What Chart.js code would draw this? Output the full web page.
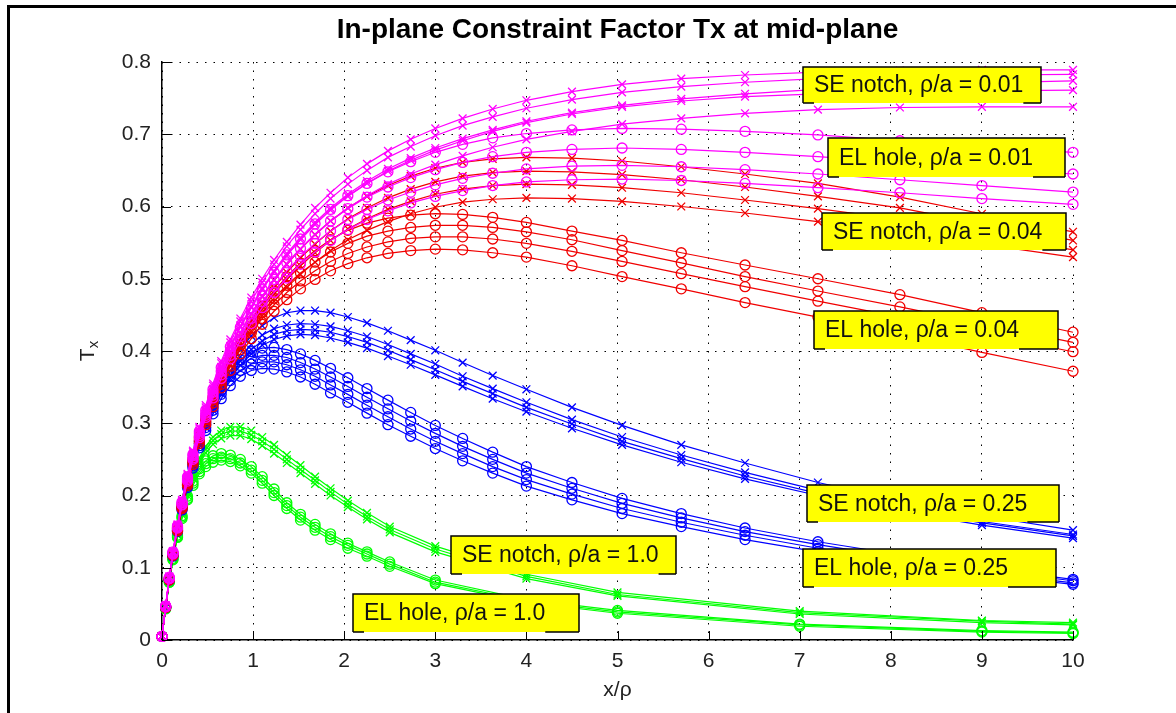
<!DOCTYPE html>
<html>
<head>
<meta charset="utf-8">
<script src="https://cdn.jsdelivr.net/npm/chart.js@4.4.1/dist/chart.umd.min.js"></script>
<style>
    html, body { margin: 0; padding: 0; background: #fff; overflow: hidden; }
    #frame {
        position: absolute; left: 7px; top: 5px; width: 1169px; height: 708px;
        box-sizing: border-box; border-top: 3px solid #000; border-left: 3px solid #000;
    }
    #wrap { position: absolute; left: 0; top: 0; width: 1176px; height: 713px; }
</style>
</head>
<body>
<div id="frame"></div>
<div id="wrap"><canvas id="txChart" width="1176" height="713"></canvas></div>
<script>
// sample positions x/rho along the mid-plane
const xGrid = [0, 0.04, 0.08, 0.12, 0.17, 0.22, 0.28, 0.34, 0.41, 0.48, 0.56, 0.65, 0.75, 0.86, 0.98, 1.1, 1.23, 1.37, 1.52, 1.68,
    1.85, 2.04, 2.25, 2.48, 2.73, 3.0, 3.3, 3.63, 4.0, 4.5, 5.05, 5.7, 6.4, 7.2, 8.1, 9.0, 10];
const xGridBlunt = [0, 0.04, 0.08, 0.12, 0.17, 0.22, 0.28, 0.34, 0.41, 0.48, 0.56, 0.65, 0.75, 0.86, 0.98, 1.1, 1.23, 1.37, 1.52, 1.68,
    1.85, 2.04, 2.25, 2.5, 3.0, 4.0, 5.0, 7.0, 9.0, 10];

// Tx curves, one row per model
const seNotch001 = [
    [.005, .048, .088, .123, .16, .194, .23, .262, .295, .325, .355, .386, .416, .445, .474, .5, .526, .551, .575, .598,
     .619, .64, .659, .677, .693, .708, .722, .735, .747, .759, .769, .777, .782, .786, .788, .789, .789],
    [.005, .048, .087, .122, .159, .193, .228, .26, .293, .322, .352, .383, .412, .441, .469, .495, .52, .545, .568, .59,
     .611, .631, .65, .668, .683, .698, .712, .724, .736, .748, .758, .766, .772, .777, .78, .782, .783],
    [.005, .047, .086, .121, .158, .191, .226, .258, .29, .319, .348, .378, .407, .435, .462, .487, .511, .535, .557, .578,
     .598, .617, .635, .652, .667, .681, .694, .706, .718, .73, .74, .749, .756, .762, .767, .771, .774],
    [.005, .047, .086, .12, .157, .19, .224, .256, .288, .317, .346, .376, .405, .433, .46, .485, .509, .532, .554, .575,
     .595, .614, .632, .649, .664, .678, .691, .704, .716, .728, .738, .746, .752, .756, .758, .76, .761],
    [.005, .046, .085, .119, .155, .188, .222, .253, .285, .313, .341, .37, .398, .425, .451, .475, .498, .52, .541, .561,
     .58, .598, .615, .631, .645, .658, .67, .682, .693, .704, .714, .722, .729, .734, .737, .738, .738]
];
const elHole001 = [
    [.005, .047, .087, .122, .158, .191, .226, .257, .289, .318, .347, .377, .406, .433, .46, .485, .509, .533, .555, .576,
     .596, .615, .632, .648, .662, .675, .686, .695, .701, .706, .708, .707, .704, .699, .691, .683, .675],
    [.005, .047, .086, .121, .157, .19, .224, .255, .286, .314, .343, .372, .4, .426, .452, .476, .499, .522, .542, .562,
     .58, .597, .613, .627, .64, .651, .661, .669, .675, .679, .681, .679, .675, .669, .661, .653, .645],
    [.005, .046, .085, .12, .156, .188, .222, .252, .283, .311, .339, .367, .394, .42, .445, .468, .49, .511, .531, .549,
     .566, .582, .596, .609, .62, .63, .639, .646, .652, .656, .657, .655, .651, .645, .637, .629, .62],
    [.005, .046, .085, .119, .155, .187, .22, .25, .28, .308, .335, .362, .389, .414, .438, .46, .481, .501, .52, .537,
     .553, .568, .582, .594, .605, .614, .622, .629, .634, .637, .638, .636, .632, .626, .619, .611, .603]
];
const seNotch004 = [
    [.005, .047, .086, .121, .157, .189, .223, .254, .286, .314, .342, .371, .399, .425, .451, .475, .498, .52, .541, .561,
     .58, .598, .614, .629, .642, .653, .661, .666, .668, .667, .663, .655, .645, .632, .613, .59, .565],
    [.005, .047, .085, .12, .156, .188, .221, .252, .283, .311, .338, .366, .393, .418, .443, .466, .488, .509, .529, .548,
     .566, .583, .598, .612, .624, .634, .642, .647, .649, .648, .644, .637, .627, .614, .598, .576, .553],
    [.005, .046, .085, .119, .155, .186, .219, .249, .28, .307, .334, .361, .387, .412, .436, .458, .479, .499, .518, .536,
     .553, .569, .583, .596, .607, .617, .624, .629, .631, .63, .626, .619, .609, .597, .582, .562, .54],
    [.005, .046, .084, .118, .153, .184, .217, .247, .277, .303, .33, .356, .381, .405, .428, .449, .469, .488, .506, .523,
     .539, .554, .567, .579, .59, .599, .606, .61, .612, .611, .607, .6, .591, .579, .565, .548, .53]
];
const elHole004 = [
    [.005, .046, .085, .12, .155, .187, .22, .25, .281, .308, .336, .364, .39, .415, .44, .462, .483, .503, .522, .539,
     .554, .567, .577, .584, .588, .59, .589, .585, .578, .566, .553, .536, .519, .5, .478, .453, .426],
    [.005, .046, .084, .119, .154, .185, .218, .248, .278, .305, .332, .359, .385, .409, .432, .453, .473, .491, .508, .523,
     .537, .549, .559, .566, .571, .574, .574, .571, .565, .554, .539, .522, .503, .483, .461, .438, .412],
    [.005, .045, .084, .118, .152, .183, .216, .246, .275, .302, .328, .354, .379, .402, .425, .445, .464, .481, .497, .511,
     .524, .535, .544, .551, .556, .558, .558, .555, .549, .538, .524, .507, .489, .469, .447, .424, .399],
    [.005, .045, .083, .117, .151, .182, .214, .243, .272, .298, .323, .349, .373, .396, .417, .437, .455, .471, .486, .499,
     .511, .521, .529, .535, .539, .541, .54, .536, .53, .518, .503, .486, .467, .447, .423, .398, .372]
];
const seNotch025 = [
    [.005, .046, .085, .119, .154, .185, .218, .247, .277, .303, .33, .356, .38, .402, .421, .435, .446, .453, .456, .456,
     .453, .447, .439, .428, .415, .401, .384, .366, .347, .322, .297, .27, .245, .218, .193, .172, .152],
    [.005, .046, .084, .118, .153, .184, .216, .245, .274, .3, .325, .349, .372, .392, .409, .422, .431, .436, .438, .437,
     .434, .428, .42, .409, .396, .382, .365, .348, .329, .305, .281, .256, .232, .207, .184, .164, .146],
    [.005, .045, .084, .118, .152, .183, .215, .243, .272, .297, .322, .345, .367, .386, .402, .414, .423, .428, .43, .429,
     .426, .42, .412, .401, .388, .374, .358, .341, .322, .299, .275, .251, .227, .203, .181, .162, .144],
    [.005, .045, .083, .117, .151, .182, .213, .241, .27, .294, .318, .341, .362, .38, .396, .408, .416, .421, .423, .422,
     .418, .412, .404, .393, .381, .367, .351, .334, .316, .293, .27, .246, .223, .2, .178, .159, .141]
];
const elHole025 = [
    [.005, .046, .084, .118, .153, .184, .216, .245, .275, .301, .327, .351, .372, .388, .399, .404, .405, .402, .396, .387,
     .376, .363, .348, .332, .315, .297, .279, .26, .24, .218, .196, .175, .155, .136, .118, .1, .084],
    [.005, .046, .084, .118, .152, .183, .215, .243, .272, .298, .322, .345, .365, .38, .39, .394, .394, .391, .384, .375,
     .364, .351, .336, .32, .303, .286, .268, .25, .231, .21, .189, .169, .15, .132, .114, .097, .082],
    [.005, .045, .083, .117, .151, .182, .213, .241, .269, .294, .318, .34, .359, .373, .382, .385, .385, .381, .374, .365,
     .353, .34, .325, .309, .292, .275, .258, .24, .222, .202, .182, .163, .145, .127, .11, .094, .079],
    [.005, .045, .083, .116, .15, .18, .211, .238, .266, .29, .313, .334, .352, .365, .373, .376, .375, .371, .364, .354,
     .342, .329, .314, .298, .282, .265, .248, .231, .213, .194, .175, .157, .139, .122, .106, .091, .077]
];
const seNotch100 = [
    [.005, .045, .082, .115, .148, .177, .206, .23, .252, .268, .281, .29, .295, .295, .29, .281, .27, .256, .242, .226,
     .21, .193, .176, .157, .13, .091, .066, .04, .027, .024],
    [.005, .045, .081, .114, .146, .175, .203, .227, .248, .264, .276, .285, .289, .289, .284, .275, .264, .25, .236, .221,
     .205, .188, .171, .153, .126, .088, .063, .038, .026, .022],
    [.005, .044, .081, .113, .145, .173, .2, .224, .244, .259, .271, .279, .283, .283, .278, .269, .258, .245, .231, .216,
     .2, .184, .167, .149, .122, .085, .061, .036, .024, .021]
];
const elHole100 = [
    [.005, .044, .081, .113, .145, .172, .199, .22, .237, .248, .255, .258, .256, .25, .24, .226, .209, .19, .174, .16,
     .147, .134, .122, .108, .083, .056, .041, .022, .013, .011],
    [.005, .044, .08, .112, .143, .17, .196, .217, .233, .244, .251, .253, .251, .245, .235, .221, .204, .186, .17, .156,
     .143, .131, .119, .105, .08, .054, .039, .021, .012, .01],
    [.005, .043, .08, .111, .142, .168, .194, .214, .23, .24, .246, .249, .247, .241, .231, .217, .2, .182, .166, .152,
     .139, .127, .116, .102, .078, .052, .037, .019, .011, .009]
];

const xTickLabels = ['0', '1', '2', '3', '4', '5', '6', '7', '8', '9', '10'];
const yTickLabels = ['0', '0.1', '0.2', '0.3', '0.4', '0.5', '0.6', '0.7', '0.8'];

// text boxes: [label, x1, y1, x2, y2] in axis units
const labelBoxes = [
    ['SE notch, \u03c1/a = 0.01', 7.036, 0.793, 9.649, 0.743],
    ['EL hole, \u03c1/a = 0.01', 7.311, 0.695, 9.912, 0.641],
    ['SE notch, \u03c1/a = 0.04', 7.245, 0.591, 9.923, 0.540],
    ['EL hole, \u03c1/a = 0.04', 7.157, 0.455, 9.835, 0.403],
    ['SE notch, \u03c1/a = 0.25', 7.080, 0.2145, 9.846, 0.163],
    ['EL hole, \u03c1/a = 0.25', 7.036, 0.126, 9.813, 0.073],
    ['SE notch, \u03c1/a = 1.0', 3.172, 0.144, 5.642, 0.091],
    ['EL hole, \u03c1/a = 1.0', 2.097, 0.064, 4.577, 0.011]
];

const groups = [
    { name: 'SE notch 0.01', color: '#ff00ff', marker: 'crossRot', xs: xGrid, rows: seNotch001 },
    { name: 'EL hole 0.01', color: '#ff00ff', marker: 'circle', xs: xGrid, rows: elHole001 },
    { name: 'SE notch 0.04', color: '#f00000', marker: 'crossRot', xs: xGrid, rows: seNotch004 },
    { name: 'EL hole 0.04', color: '#f00000', marker: 'circle', xs: xGrid, rows: elHole004 },
    { name: 'SE notch 0.25', color: '#0000ff', marker: 'crossRot', xs: xGrid, rows: seNotch025 },
    { name: 'EL hole 0.25', color: '#0000ff', marker: 'circle', xs: xGrid, rows: elHole025 },
    { name: 'SE notch 1.0', color: '#00ff00', marker: 'crossRot', xs: xGridBlunt, rows: seNotch100 },
    { name: 'EL hole 1.0', color: '#00ff00', marker: 'circle', xs: xGridBlunt, rows: elHole100 }
];

const datasets = [];
groups.forEach(g => {
    g.rows.forEach((row, k) => {
        datasets.push({
            label: g.name + ' #' + (k + 1),
            data: row.map((v, i) => ({ x: g.xs[i], y: v })),
            borderColor: g.color,
            borderWidth: 1.2,
            backgroundColor: 'rgba(0,0,0,0)',
            pointStyle: g.marker,
            pointRadius: g.marker === 'circle' ? 5 : 5.5,
            pointBorderColor: g.color,
            pointBackgroundColor: 'rgba(0,0,0,0)',
            pointBorderWidth: 1.3,
            tension: 0,
            clip: false
        });
    });
});

const FONT = '"Liberation Sans", Arial, sans-serif';

// title, axis labels, inward ticks and the yellow text boxes
const decorations = {
    id: 'decorations',
    afterDraw(chart) {
        const { ctx, chartArea: a, scales: { x, y } } = chart;
        ctx.save();

        ctx.strokeStyle = '#000';
        ctx.lineWidth = 1;
        ctx.beginPath();
        x.ticks.forEach(t => {
            const px = Math.round(x.getPixelForValue(t.value)) + 0.5;
            ctx.moveTo(px, a.bottom);
            ctx.lineTo(px, a.bottom - 9);
        });
        y.ticks.forEach(t => {
            const py = Math.round(y.getPixelForValue(t.value)) + 0.5;
            ctx.moveTo(a.left, py);
            ctx.lineTo(a.left + 9, py);
        });
        ctx.stroke();

        ctx.font = '23px ' + FONT;
        ctx.textBaseline = 'middle';
        ctx.textAlign = 'left';
        labelBoxes.forEach(([text, x1, y1, x2, y2]) => {
            const l = Math.round(x.getPixelForValue(x1));
            const r = Math.round(x.getPixelForValue(x2));
            const t = Math.round(y.getPixelForValue(y1));
            const b = Math.round(y.getPixelForValue(y2));
            ctx.fillStyle = '#ffff00';
            ctx.fillRect(l, t, r - l, b - t);
            const tx = l + 11;
            const tw = ctx.measureText(text).width;
            ctx.strokeStyle = '#000';
            ctx.lineWidth = 1.5;
            ctx.beginPath();
            ctx.moveTo(l, b); ctx.lineTo(l, t); ctx.lineTo(r, t); ctx.lineTo(r, b);
            ctx.moveTo(l, b); ctx.lineTo(tx, b);
            ctx.moveTo(tx + tw, b); ctx.lineTo(r, b);
            ctx.stroke();
            ctx.fillStyle = '#111';
            ctx.fillText(text, tx, (t + b) / 2 + 1);
        });

        const cx = (a.left + a.right) / 2;
        ctx.fillStyle = '#000';
        ctx.textAlign = 'center';
        ctx.font = 'bold 28px ' + FONT;
        ctx.fillText('In-plane Constraint Factor Tx at mid-plane', cx, 30);

        ctx.fillStyle = '#222';
        ctx.font = '21px ' + FONT;
        ctx.fillText('x/\u03c1', cx, 690);

        ctx.translate(88, (a.top + a.bottom) / 2);
        ctx.rotate(-Math.PI / 2);
        ctx.textAlign = 'left';
        ctx.font = '21px ' + FONT;
        const tW = ctx.measureText('T').width;
        ctx.font = '15px ' + FONT;
        const xW = ctx.measureText('x').width;
        const start = -(tW + xW) / 2;
        ctx.font = '21px ' + FONT;
        ctx.fillText('T', start, 0);
        ctx.font = '15px ' + FONT;
        ctx.fillText('x', start + tW, 6);
        ctx.restore();
    }
};

const ctx = document.getElementById('txChart').getContext('2d');
const txChart = new Chart(ctx, {
    type: 'line',
    data: { datasets: datasets },
    options: {
        responsive: false,
        animation: false,
        events: [],
        layout: { padding: { left: 0, top: 62, right: 103, bottom: 0 } },
        plugins: {
            legend: { display: false },
            title: { display: false },
            tooltip: { enabled: false }
        },
        scales: {
            x: {
                type: 'linear',
                min: 0,
                max: 10,
                ticks: {
                    stepSize: 1,
                    padding: 9,
                    color: '#222',
                    font: { family: FONT, size: 21 },
                    maxRotation: 0,
                    callback: (v, i) => xTickLabels[i]
                },
                grid: { color: '#000', lineWidth: 1, drawTicks: false },
                border: { display: true, color: '#000', width: 1.5, dash: [1.5, 7] },
                afterFit: s => { s.height = 73; }
            },
            y: {
                type: 'linear',
                min: 0,
                max: 0.8,
                ticks: {
                    stepSize: 0.1,
                    padding: 11,
                    color: '#222',
                    font: { family: FONT, size: 21 },
                    callback: (v, i) => yTickLabels[i]
                },
                grid: { color: '#000', lineWidth: 1, drawTicks: false },
                border: { display: true, color: '#000', width: 1.5, dash: [1.5, 7] },
                afterFit: s => { s.width = 162; }
            }
        }
    },
    plugins: [decorations]
});
</script>
</body>
</html>
